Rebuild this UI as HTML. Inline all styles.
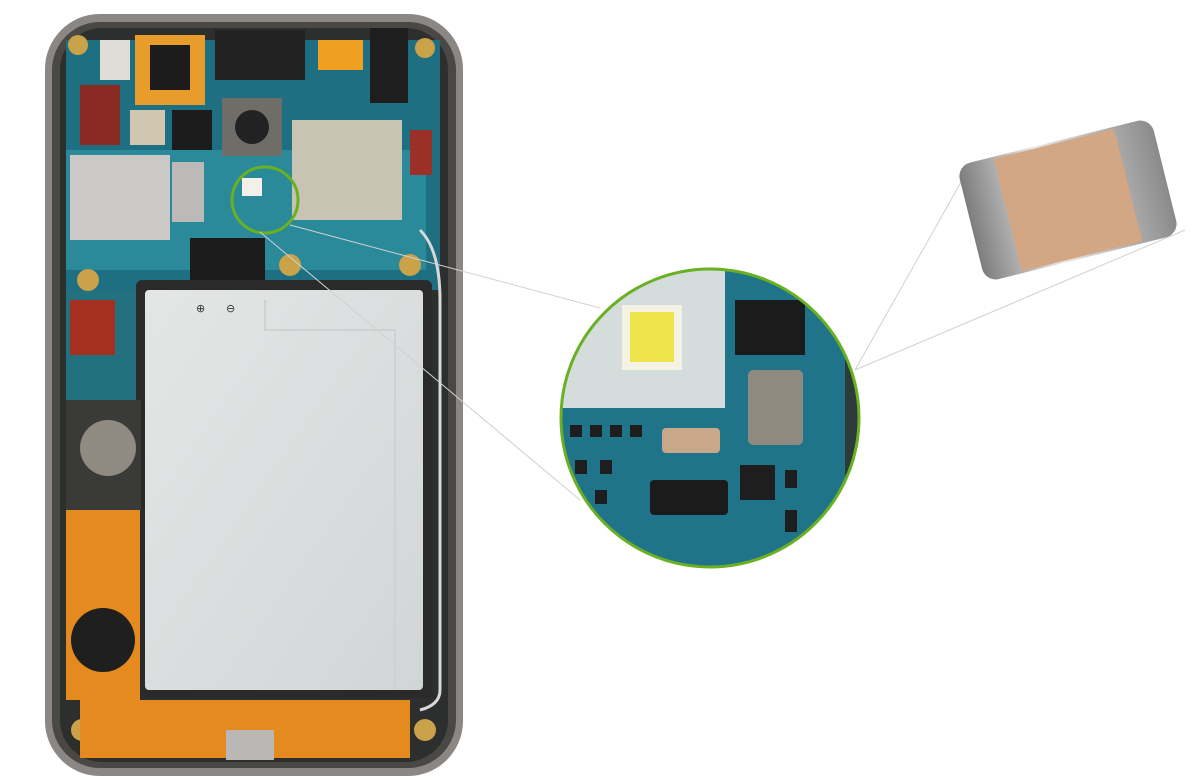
<!DOCTYPE html>
<html><head><meta charset="utf-8"><style>html,body{margin:0;padding:0;background:#fff;width:1200px;height:780px;overflow:hidden}</style></head>
<body>
<svg width="1200" height="780" viewBox="0 0 1200 780" xmlns="http://www.w3.org/2000/svg">
<defs>
<linearGradient id="bat" x1="0" y1="0" x2="1" y2="1"><stop offset="0" stop-color="#e4e6e6"/><stop offset="1" stop-color="#d2d5d6"/></linearGradient>
<linearGradient id="cap" x1="0" y1="0" x2="1" y2="0"><stop offset="0" stop-color="#7d7d7d"/><stop offset=".4" stop-color="#e8e8e8"/><stop offset="1" stop-color="#8a8a8a"/></linearGradient>
<clipPath id="cc"><circle cx="710" cy="418" r="148"/></clipPath>
</defs>
<rect x="45" y="14" width="418" height="762" rx="55" fill="#8a8784"/>
<rect x="52" y="22" width="404" height="746" rx="48" fill="#4a4845"/>
<rect x="60" y="28" width="388" height="734" rx="42" fill="#2d2e2e"/>
<path d="M66 40 H440 V290 H66 Z" fill="#1f6f82"/>
<rect x="66" y="150" width="360" height="120" fill="#2a8a9a"/>
<rect x="66" y="290" width="75" height="110" fill="#23707e"/>
<rect x="100" y="40" width="30" height="40" fill="#e0ddd8"/>
<rect x="135" y="35" width="70" height="70" fill="#e79c2c"/>
<rect x="150" y="45" width="40" height="45" fill="#1c1c1c"/>
<rect x="215" y="30" width="90" height="50" fill="#222"/>
<rect x="318" y="40" width="45" height="30" fill="#f0a020"/>
<rect x="370" y="28" width="38" height="75" fill="#1e1e1e"/>
<rect x="80" y="85" width="40" height="60" fill="#8a2a22"/>
<rect x="130" y="110" width="35" height="35" fill="#cfc7b0"/>
<rect x="172" y="110" width="40" height="40" fill="#1c1c1c"/>
<rect x="222" y="98" width="60" height="58" fill="#6f6d68"/>
<circle cx="252" cy="127" r="17" fill="#222"/>
<rect x="292" y="120" width="110" height="100" fill="#c9c3b4"/>
<rect x="70" y="155" width="100" height="85" fill="#cbc9c6"/>
<rect x="172" y="162" width="32" height="60" fill="#bcbab6"/>
<rect x="410" y="130" width="22" height="45" fill="#9a3028"/>
<rect x="190" y="238" width="75" height="45" fill="#1b1b1b"/>
<rect x="70" y="300" width="45" height="55" fill="#a53020"/>
<g fill="#c9a24a"><circle cx="88" cy="280" r="11"/><circle cx="290" cy="265" r="11"/><circle cx="410" cy="265" r="11"/><circle cx="82" cy="730" r="11"/><circle cx="425" cy="730" r="11"/><circle cx="78" cy="45" r="10"/><circle cx="425" cy="48" r="10"/></g>
<circle cx="265" cy="200" r="33" fill="none" stroke="#6ab023" stroke-width="3"/>
<rect x="242" y="178" width="20" height="18" fill="#f2f0e8"/>
<rect x="136" y="280" width="296" height="418" rx="6" fill="#2a2a2a"/>
<rect x="145" y="290" width="278" height="400" rx="4" fill="url(#bat)"/>
<path d="M265 300 V330 H395 V690" stroke="#cfd2d3" stroke-width="2" fill="none"/>
<text x="196" y="312" font-family="DejaVu Sans,sans-serif" font-size="11" fill="#333">⊕</text>
<text x="226" y="312" font-family="DejaVu Sans,sans-serif" font-size="11" fill="#333">⊖</text>
<rect x="66" y="400" width="75" height="110" fill="#3a3a38"/>
<circle cx="108" cy="448" r="28" fill="#8f8a82"/>
<path d="M66 510 H140 V700 H66 Z" fill="#e58a1e"/>
<circle cx="103" cy="640" r="32" fill="#1f1f1f"/>
<rect x="80" y="700" width="330" height="58" fill="#e58a1e"/>
<rect x="226" y="730" width="48" height="30" fill="#b9b8b5"/>
<path d="M420 230 Q440 250 440 300 V690 Q440 705 420 710" stroke="#d8d8d8" stroke-width="3" fill="none"/>
<g stroke="#cfd2d2" stroke-width="1" fill="none">
<line x1="290" y1="225" x2="600" y2="308"/>
<line x1="260" y1="232" x2="580" y2="500"/>
<line x1="965" y1="175" x2="855" y2="370"/>
<line x1="1185" y1="230" x2="855" y2="370"/>
</g>
<g clip-path="url(#cc)">
<rect x="560" y="268" width="300" height="300" fill="#1f7489"/>
<rect x="560" y="268" width="165" height="140" fill="#d4dcdc"/>
<rect x="622" y="305" width="60" height="65" fill="#f4f2e4"/>
<rect x="630" y="312" width="44" height="50" fill="#eee34a"/>
<rect x="735" y="300" width="70" height="55" fill="#1b1b1b"/>
<rect x="748" y="370" width="55" height="75" rx="5" fill="#8f8a80"/>
<rect x="662" y="428" width="58" height="25" rx="4" fill="#c9a88a"/>
<rect x="650" y="480" width="78" height="35" rx="4" fill="#1b1b1b"/>
<g fill="#1e1e1e"><rect x="570" y="425" width="12" height="12"/><rect x="590" y="425" width="12" height="12"/><rect x="610" y="425" width="12" height="12"/><rect x="630" y="425" width="12" height="12"/><rect x="575" y="460" width="12" height="14"/><rect x="600" y="460" width="12" height="14"/><rect x="595" y="490" width="12" height="14"/><rect x="740" y="465" width="35" height="35"/><rect x="785" y="470" width="12" height="18"/><rect x="785" y="510" width="12" height="22"/></g>
<rect x="845" y="268" width="20" height="300" fill="#2d3a3a"/>
</g>
<circle cx="710" cy="418" r="149" fill="none" stroke="#6ab023" stroke-width="3"/>
<g transform="translate(1068,200) rotate(-14)">
<rect x="-100" y="-60" width="200" height="120" rx="14" fill="url(#cap)"/>
<rect x="-62" y="-58" width="124" height="116" fill="#d3a684"/>
</g>
</svg>
</body></html>
